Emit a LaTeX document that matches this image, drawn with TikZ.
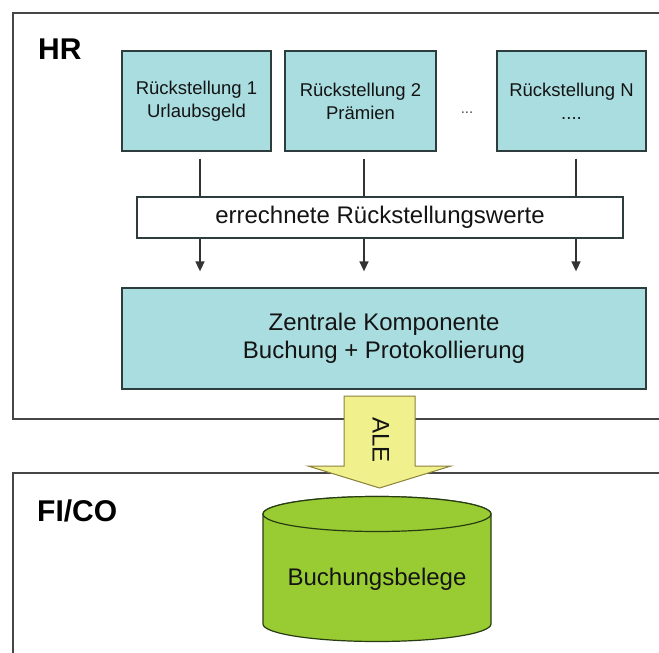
\documentclass[tikz,border=0pt]{standalone}
\usepackage{fontspec}
\setmainfont{Liberation Sans}
\usetikzlibrary{arrows.meta}
\definecolor{boxblue}{RGB}{170,221,224}
\definecolor{boxedge}{RGB}{45,60,60}
\definecolor{framegray}{RGB}{70,70,70}
\definecolor{dbgreen}{RGB}{153,204,51}
\definecolor{dbedge}{RGB}{40,60,20}
\definecolor{aleyellow}{RGB}{240,240,140}
\definecolor{aleedge}{RGB}{140,130,60}
\definecolor{txt}{RGB}{20,20,20}
\begin{document}
\begin{tikzpicture}[x=1pt,y=-1pt,
  frame/.style={draw=framegray,line width=1.8pt},
  rbox/.style={draw=boxedge,line width=1.3pt,fill=boxblue,inner sep=0pt,align=center,text=txt,
    minimum height=100pt,font=\fontsize{18.5}{23}\selectfont},
  ebox/.style={draw=boxedge,line width=1.3pt,fill=white,inner sep=0pt,align=center,text=txt,
    font=\fontsize{24}{28}\selectfont},
  zbox/.style={draw=boxedge,line width=1.3pt,fill=boxblue,inner sep=0pt,align=center,text=txt,
    font=\fontsize{24}{28}\selectfont},
  conn/.style={draw=black!80,line width=1.5pt},
  arr/.style={conn,-{Triangle[width=9pt,length=10pt]}},
  lbl/.style={font=\fontsize{30}{31}\selectfont\bfseries,text=black,inner sep=0pt,anchor=west}]
\useasboundingbox (0,0) rectangle (659,653);
\fill[white] (0,0) rectangle (659,653);
% frames
\draw[frame] (660,13) -- (13,13) -- (13,419) -- (660,419);
\draw[frame] (660,473) -- (13,473) -- (13,660);
\node[lbl] (hr) at (38,49.5) {HR};
\node[lbl] (fico) at (37,510.5) {FI/CO};
% top boxes
\node[rbox,minimum width=149pt] (r1) at (196.5,101) {Rückstellung 1\\Urlaubsgeld};
\node[rbox,minimum width=151pt] (r2) at (360.5,101) {Rückstellung 2\\Prämien};
\node[rbox,minimum width=149pt] (rN) at (571.5,101) {Rückstellung N\\....};
\node[font=\fontsize{15}{15}\selectfont,text=black!70] (dots) at (467,113) {...};
% collected values
\node[ebox,minimum width=486pt,minimum height=41pt] (err) at (380,217.5) {errechnete Rückstellungswerte};
% central component
\node[zbox,minimum width=524pt,minimum height=101pt] (zen) at (384,338.5) {Zentrale Komponente\\Buchung + Protokollierung};
% connectors
\foreach \n/\s in {r1/3.5pt, r2/3.5pt, rN/4.5pt} {
  \draw[conn,shorten <=7pt] ([xshift=\s]\n.south) -- ([xshift=\s]\n.south |- err.north);
  \draw[arr,shorten >=16pt] ([xshift=\s]\n.south |- err.south) -- ([xshift=\s]\n.south |- zen.north);
}
% ALE arrow
\path[fill=aleyellow,draw=aleedge,line width=1pt]
  (344,396) -- (415,396) -- (415,466) -- (451,466) -- (379.5,488) -- (308,466) -- (344,466) -- cycle;
\node[rotate=-90,font=\fontsize{24}{24}\selectfont,text=txt,inner sep=0pt] (ale) at (381,440) {ALE};
% database cylinder
\path[fill=dbgreen,draw=dbedge,line width=1.2pt]
  (263,514) -- (263,624) arc[start angle=180,end angle=360,x radius=114pt,y radius=17.5pt]
  -- (491,514) arc[start angle=0,end angle=180,x radius=114pt,y radius=17.5pt] -- cycle;
\draw[fill=dbgreen,draw=dbedge,line width=1.2pt] (377,514) ellipse[x radius=114pt,y radius=17.5pt];
\node[font=\fontsize{24}{24}\selectfont,text=txt] (db) at (377,579) {Buchungsbelege};
\end{tikzpicture}
\end{document}
